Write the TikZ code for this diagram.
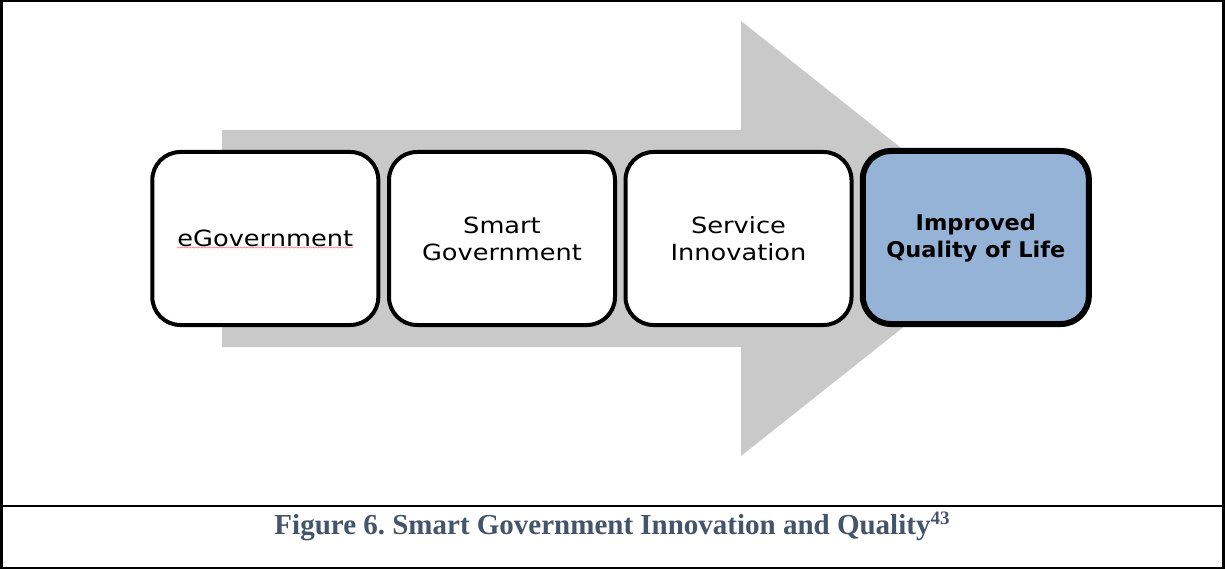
\documentclass[tikz,border=0pt]{standalone}
\usepackage{fontspec}
\usetikzlibrary{decorations.pathmorphing}
\newfontfamily\boxfont[FakeStretch=1.15]{DejaVu Sans}
\newfontfamily\boldboxfont[FakeStretch=1.04]{DejaVu Sans Bold}
\newfontfamily\capfont{Liberation Serif}
\definecolor{arrowgray}{HTML}{C9C9C9}
\definecolor{bluefill}{HTML}{95B3D7}
\definecolor{captext}{HTML}{44546A}
\tikzset{
  stagebox/.style={draw=black, line width=4pt, rounded corners=28pt, fill=white,
    minimum width=226pt, minimum height=173pt, align=center, inner sep=0pt,
    font=\boxfont\fontsize{22.3}{27}\selectfont},
  goalbox/.style={stagebox, line width=6pt, fill=bluefill,
    font=\boldboxfont\fontsize{21.6}{26.5}\selectfont},
  frameline/.style={draw=black, line width=2.5pt}
}
\begin{document}
\frenchspacing
\begin{tikzpicture}[x=1pt,y=-1pt]
\useasboundingbox (0,0) rectangle (1225,569);
% frame
\draw[frameline] (1.25,1.25) rectangle (1223.5,567.75);
\draw[frameline] (1.25,506) -- (1223.5,506);
% big arrow
\fill[arrowgray] (222,130) -- (741,130) -- (741,21) -- (1015,238.5) -- (741,456) -- (741,347) -- (222,347) -- cycle;
% boxes
\node[stagebox] (b1) at (265.3,238.5) {eGovernment};
\node[stagebox] (b2) at (502,238.5) {Smart\\Government};
\node[stagebox] (b3) at (738.5,238.5) {Service\\Innovation};
\node[goalbox] (b4) at (975.8,237.5) {Improved\\Qualit\smash{y} of Life};
% spell-check underline
\coordinate (u1) at (177,247.5);
\coordinate (u2) at (353,247.5);
\draw[red!55, line width=0.6pt, decorate, decoration={snake, amplitude=0.6pt, segment length=3pt}] (u1) -- (u2);
% caption
\node[anchor=base, inner sep=0pt, text=captext, font=\capfont\bfseries\fontsize{29}{33}\selectfont] (cap) at (612,534)
  {Figure 6. Smart Government Innovation and Quality\raisebox{10pt}{\fontsize{19}{19}\selectfont 43}};
\end{tikzpicture}
\end{document}
